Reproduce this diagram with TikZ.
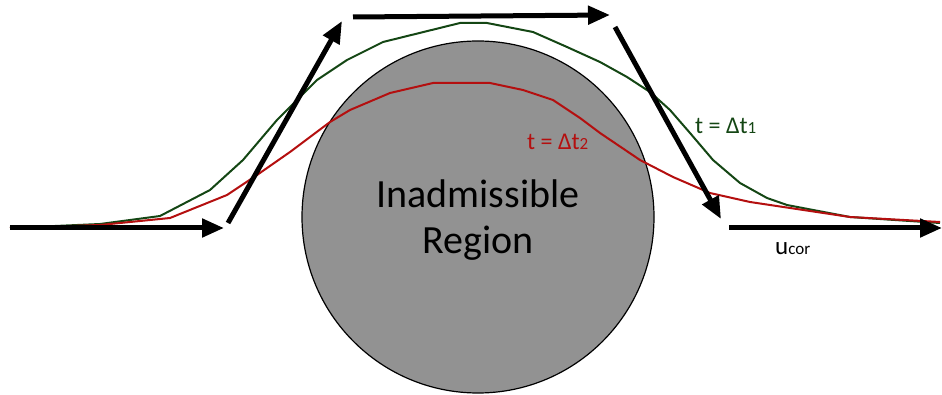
\documentclass[tikz,border=0pt]{standalone}
\usepackage{fontspec}
\setmainfont{Carlito}
\usetikzlibrary{arrows.meta}
\definecolor{dgreen}{RGB}{20,70,20}
\definecolor{dred}{RGB}{180,15,15}
\definecolor{regiongray}{RGB}{146,146,146}
\tikzset{
  motion/.style={line width=5pt,-{Triangle[length=22pt,width=18pt]}},
  traj/.style={line width=2pt,line join=round},
}
\begin{document}
\begin{tikzpicture}[x=1pt,y=-1pt]
\useasboundingbox (0,0) rectangle (942,395);
\node[circle,draw=black,line width=1.2pt,fill=regiongray,minimum size=352pt,inner sep=0pt] (region) at (478,217) {};
\node[font=\fontsize{40}{46}\selectfont,align=center] (regionlabel) at (478,220) {Inadmissible\\Region};
% green trajectory
\draw[traj,dgreen] (10,228) -- (100,224) -- (160,216) -- (210,190) -- (243,160) -- (277,120) -- (317,80) -- (347,60) -- (383,42) -- (460,23) -- (487,23) -- (533,32) -- (567,47) -- (600,62) -- (627,77) -- (650,92) -- (670,110) -- (690,133) -- (713,160) -- (740,183) -- (767,198) -- (787,205) -- (850,217) -- (940,223);
% red trajectory
\draw[traj,dred] (10,228) -- (100,225) -- (170,218) -- (227,195) -- (257,175) -- (290,152) -- (330,122) -- (350,110) -- (390,93) -- (433,83) -- (490,83) -- (523,90) -- (553,100) -- (580,118) -- (600,133) -- (640,160) -- (673,177) -- (710,193) -- (750,202) -- (850,217) -- (940,222);
% arrows
\coordinate (a1s) at (10,228); \coordinate (a1e) at (224,228);
\coordinate (a2s) at (228,223); \coordinate (a2e) at (342,21);
\coordinate (a3s) at (353,17); \coordinate (a3e) at (610,15);
\coordinate (a4s) at (615,27); \coordinate (a4e) at (721,219);
\coordinate (a5s) at (729,228); \coordinate (a5e) at (942,228);
\draw[motion] (a1s) -- (a1e);
\draw[motion] (a2s) -- (a2e);
\draw[motion] (a3s) -- (a3e);
\draw[motion] (a4s) -- (a4e);
\draw[motion] (a5s) -- (a5e);
% labels
\node[dgreen,font=\fontsize{24}{28}\selectfont,anchor=west,inner sep=0pt] (l1) at (695,126) {t = Δt{\fontsize{17}{20}\selectfont 1}};
\node[dred,font=\fontsize{24}{28}\selectfont,anchor=west,inner sep=0pt] (l2) at (527,142) {t = Δt{\fontsize{17}{20}\selectfont 2}};
\node[font=\fontsize{25}{28}\selectfont,anchor=west,inner sep=0pt] (u) at (775,249) {u{\fontsize{17}{20}\selectfont cor}};
\end{tikzpicture}
\end{document}
